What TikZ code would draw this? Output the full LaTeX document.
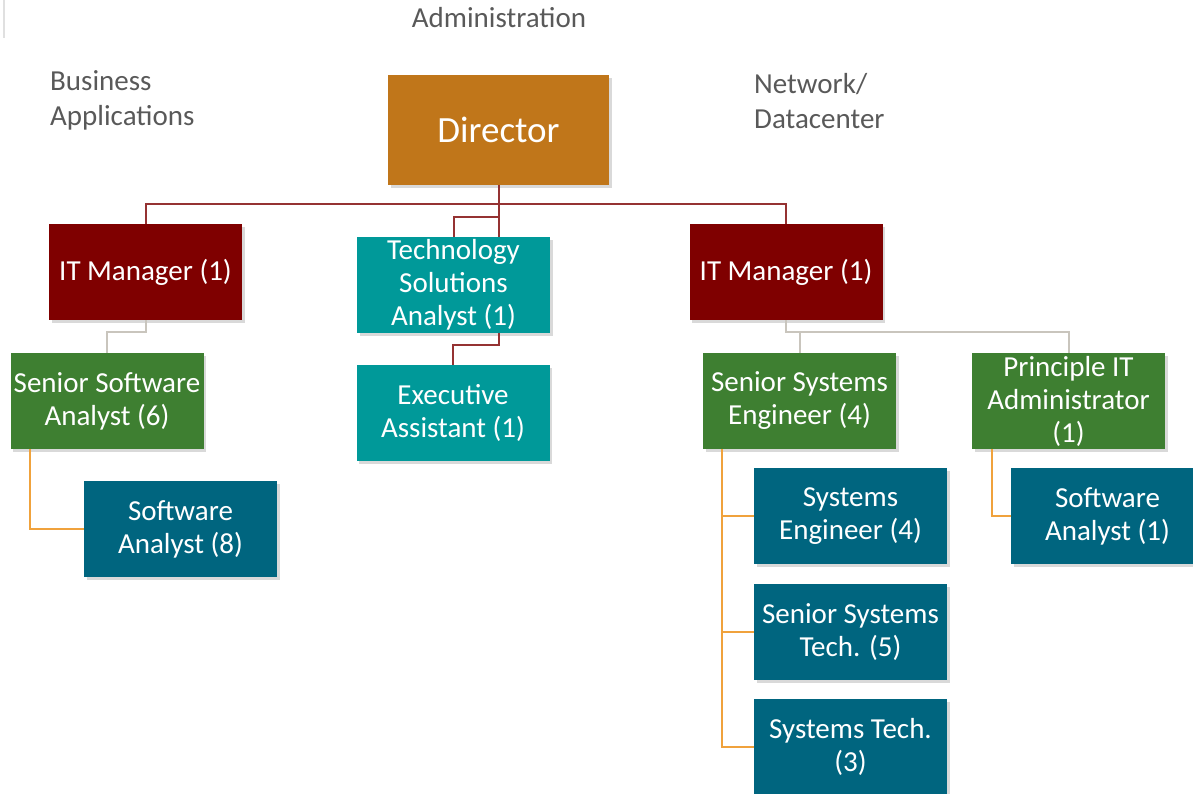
\documentclass[tikz,border=0pt]{standalone}
\usepackage{fontspec}
\setmainfont{Carlito}
\usetikzlibrary{shadows}
\definecolor{dirc}{HTML}{C0761A}
\definecolor{mgrc}{HTML}{7F0000}
\definecolor{tealc}{HTML}{009999}
\definecolor{grnc}{HTML}{3E7F31}
\definecolor{bluc}{HTML}{00657F}
\definecolor{redln}{HTML}{953232}
\definecolor{gryln}{HTML}{C9C5BD}
\definecolor{orgln}{HTML}{F0A23C}
\definecolor{lblc}{HTML}{595959}
\tikzset{
  box/.style={rectangle, inner sep=0pt, minimum width=193pt, minimum height=96pt,
    text=white, align=center, font=\fontsize{29}{33}\selectfont,
    drop shadow={opacity=0.3, shadow xshift=2.5pt, shadow yshift=-2.5pt}},
  dirbox/.style={box, fill=dirc, minimum width=221pt, minimum height=110pt, font=\fontsize{37}{40}\selectfont},
  mgrbox/.style={box, fill=mgrc},
  tealbox/.style={box, fill=tealc},
  grnbox/.style={box, fill=grnc},
  blubox/.style={box, fill=bluc},
  lbl/.style={text=lblc, font=\fontsize{29}{35}\selectfont, inner sep=0pt},
  redl/.style={draw=redln, line width=2pt},
  gryl/.style={draw=gryln, line width=2pt},
  orgl/.style={draw=orgln, line width=2pt}
}
\begin{document}
\begin{tikzpicture}[x=1pt, y=-1pt]
\useasboundingbox (0,0) rectangle (1193,793);
\draw[black!12, line width=1.5pt] (4,0) -- (4,38);
% labels
\node[lbl] (adm) at (499,18) {Administration};
\node[lbl, anchor=west, align=left] (bus) at (50,100.5) {Business\\Applications};
\node[lbl, anchor=west, align=left] (net) at (754,101) {Network/\\Datacenter};
% boxes
\node[dirbox] (dir) at (498.5,130) {Director};
\node[mgrbox] (itm1) at (145.5,272) {IT Manager (1)};
\node[tealbox] (tsa) at (453.5,285) {Technology\\Solutions\\Analyst (1)};
\node[tealbox] (exa) at (453,413) {Executive\\Assistant (1)};
\node[mgrbox] (itm2) at (786,272) {IT Manager (1)};
\node[grnbox] (ssa) at (107,401) {Senior Software\\Analyst (6)};
\node[blubox] (sa8) at (180.5,529) {Software\\Analyst (8)};
\node[grnbox] (sse) at (799.5,401) {Senior Systems\\Engineer (4)};
\node[grnbox] (pita) at (1068.5,401) {Principle IT\\Administrator\\(1)};
\node[blubox] (sa1) at (1107.5,516) {Software\\Analyst (1)};
\node[blubox] (se4) at (850.5,516) {Systems\\Engineer (4)};
\node[blubox] (sst5) at (850.5,632) {Senior Systems\\Tech. (5)};
\node[blubox] (st3) at (850.5,747) {Systems Tech.\\(3)};
% red connectors
\draw[redl] (dir.south) -- ++(0,19) coordinate (j1);
\draw[redl] (itm1.north) |- (j1) -| (itm2.north);
\draw[redl] (dir.south) -- (dir.south |- tsa.north);
\draw[redl] (dir.south |- 0,217) -| (tsa.north);
\draw[redl] (tsa.south -| dir.south) -- ++(0,12) -| (exa.north);
% gray connectors
\draw[gryl] (itm1.south) -- ++(0,12) -| (ssa.north);
\draw[gryl] (itm2.south) -- ++(0,12) coordinate (j2) -| (pita.north);
\draw[gryl] (j2 -| sse.north) -- (sse.north);
% orange connectors
\draw[orgl] ([xshift=20pt]ssa.south west) |- (sa8.west);
\draw[orgl] ([xshift=19pt]sse.south west) |- (st3.west);
\draw[orgl] ([xshift=19pt]sse.south west |- se4.west) -- (se4.west);
\draw[orgl] ([xshift=19pt]sse.south west |- sst5.west) -- (sst5.west);
\draw[orgl] ([xshift=20pt]pita.south west) |- (sa1.west);
\end{tikzpicture}
\end{document}
